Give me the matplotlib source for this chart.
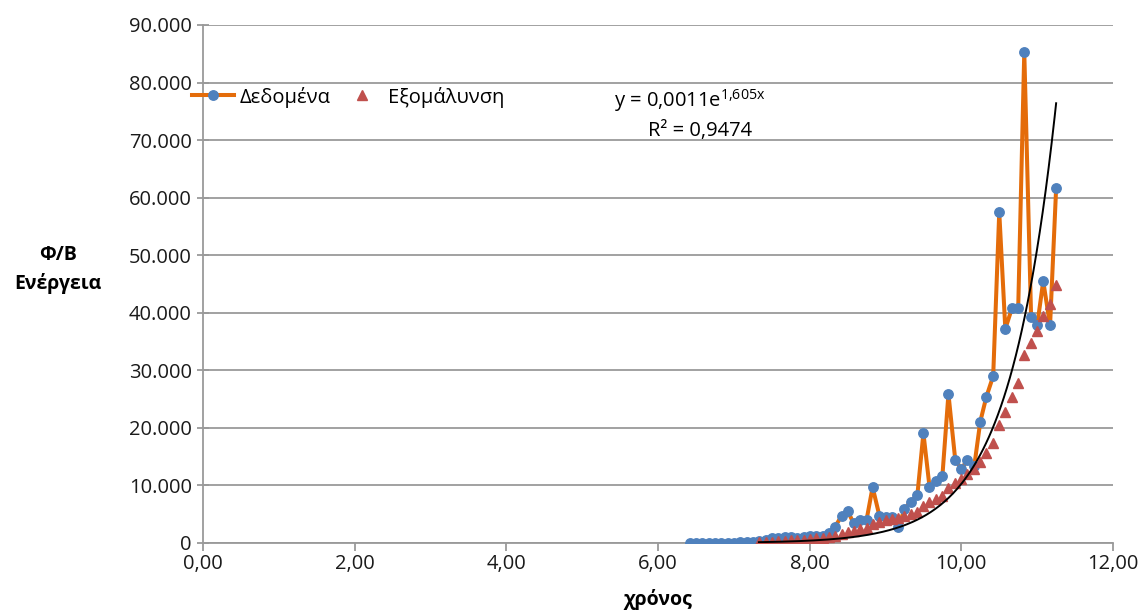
import matplotlib
matplotlib.use('Agg')
import matplotlib.pyplot as plt
import numpy as np
from matplotlib.ticker import FuncFormatter

# χρόνος (data points, monthly steps)
years = [6.42, 6.50, 6.58, 6.67, 6.75, 6.83, 6.92, 7.00,
         7.08, 7.17, 7.25, 7.33, 7.42, 7.50, 7.58, 7.67, 7.75, 7.83, 7.92, 8.00,
         8.08, 8.17, 8.25, 8.33, 8.42, 8.50, 8.58, 8.67, 8.75, 8.83, 8.92, 9.00,
         9.08, 9.17, 9.25, 9.33, 9.42, 9.50, 9.58, 9.67, 9.75, 9.83, 9.92, 10.00,
         10.08, 10.17, 10.25, 10.33, 10.42, 10.50, 10.58, 10.67, 10.75, 10.83, 10.92, 11.00,
         11.08, 11.17, 11.25]

# Δεδομένα
energy = [50, 50, 60, 50, 70, 60, 80, 70,
          100, 120, 200, 350, 600, 800, 900, 1000, 1100, 950, 1050, 1150,
          1200, 1300, 1800, 2700, 4700, 5600, 3400, 4000, 4000, 9700, 4700, 4500,
          4500, 2800, 5850, 7200, 8300, 19100, 9800, 10700, 11600, 25900, 14400, 12900,
          14400, 13300, 21100, 25400, 29000, 57500, 37200, 40900, 40800, 85300, 39300, 37800,
          45500, 37800, 61600]

# Εξομάλυνση (starts at 7,33)
smooth_years = years[11:]
smooth = [105, 151, 213, 283, 363, 448, 523, 603, 693,
          785, 883, 1017, 1213, 1554, 1954, 2163, 2413, 2654, 3383, 3688, 3967,
          4242, 4367, 4704, 5079, 5379, 6504, 7038, 7596, 8229, 9579, 10388, 11088,
          11913, 12788, 14058, 15575, 17300, 20500, 22780, 25300, 27730, 32680, 34760, 36830,
          39430, 41470, 44840]

# exponential trendline shown on chart
trend_a = 0.0011
trend_b = 1.605

plt.rcParams['font.family'] = ['Open Sans', 'DejaVu Sans']
plt.rcParams['mathtext.fontset'] = 'custom'
plt.rcParams['mathtext.rm'] = 'Open Sans'

fig = plt.figure(figsize=(11.45, 6.13), dpi=100)
ax = fig.add_axes([203/1145, 1 - 543/613, 910/1145, 518/613])

grid_col = '#9a9a9a'
ax.plot(years, energy, color='#E46C0A', lw=2.9, marker='o', ms=6.8,
        mfc='#4F81BD', mec='#4F81BD', label='Δεδομένα', zorder=3)
ax.plot(smooth_years, smooth, ls='none', marker='^', ms=6.5,
        color='#C0504D', label='Εξομάλυνση', zorder=4)

tx = np.linspace(smooth_years[0], smooth_years[-1], 200)
ax.plot(tx, trend_a * np.exp(trend_b * tx), color='black', lw=1.4, zorder=5)

ax.set_xlim(0, 12)
ax.set_ylim(0, 90000)
ax.set_xticks(np.arange(0, 13, 2))
ax.set_yticks(np.arange(0, 90001, 10000))
ax.xaxis.set_major_formatter(FuncFormatter(lambda v, p: f'{v:.2f}'.replace('.', ',')))
ax.yaxis.set_major_formatter(FuncFormatter(lambda v, p: f'{int(v):,}'.replace(',', '.')))
ax.grid(axis='y', color=grid_col, lw=1.3)
ax.set_axisbelow(True)
for s in ['top', 'right']:
    ax.spines[s].set_visible(False)
for s in ['left', 'bottom']:
    ax.spines[s].set_color(grid_col)
    ax.spines[s].set_linewidth(1.3)
ax.tick_params(axis='both', direction='inout', length=8, width=1.3, color=grid_col,
               labelsize=14.5, labelcolor='#1a1a1a', pad=4)
ax.tick_params(axis='x', direction='out', length=6, pad=2)

fig.text(658/1145, 1 - 600/613, 'χρόνος', ha='center', va='center',
         fontsize=14, fontweight='bold')
fig.text(58/1145, 1 - 270/613, 'Φ/Β\nΕνέργεια', ha='center', va='center',
         fontsize=14, fontweight='bold', linespacing=1.5)

ax.legend(loc='center left', bbox_to_anchor=(-0.012, 0.861), ncol=2, frameon=False,
          fontsize=14.5, borderaxespad=0, borderpad=0, handlelength=2.1,
          handletextpad=0.25, columnspacing=0.5)

ax.text(0.535, 0.855, r'y = 0,0011e$^{\mathrm{1{,}605x}}$', transform=ax.transAxes,
        ha='center', va='center', fontsize=14.5)
ax.text(0.546, 0.795, 'R² = 0,9474', transform=ax.transAxes,
        ha='center', va='center', fontsize=14.5)

fig.savefig('out.png', dpi=100)
